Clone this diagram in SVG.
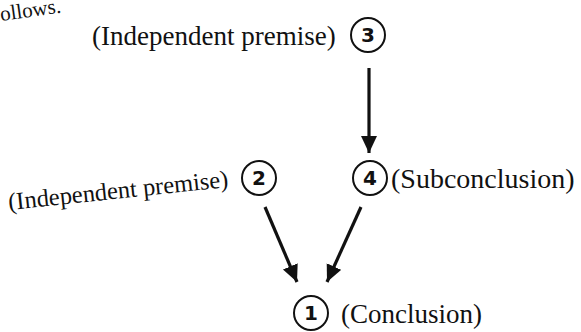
<svg xmlns="http://www.w3.org/2000/svg" width="581" height="332" viewBox="0 0 581 332">
<style>
.lbl{font-family:"Liberation Serif","Times New Roman",serif;fill:#111;}
.num{font-family:"DejaVu Sans","Liberation Sans",sans-serif;font-weight:bold;font-size:20px;fill:#111;text-anchor:middle;}
.circ{fill:none;stroke:#111;stroke-width:2;}
.edge{stroke:#111;stroke-width:3.2;fill:none;}
</style>
<defs>
<marker id="ah" markerUnits="userSpaceOnUse" markerWidth="20" markerHeight="18" refX="17" refY="8" orient="auto">
<path d="M0,0 L17,8 L0,16 Z" fill="#111"/>
</marker>
</defs>
<rect width="581" height="332" fill="#fff"/>
<text class="lbl" font-size="21" transform="translate(1,21) rotate(-8)">ollows.</text>
<g id="n3">
<text class="lbl" font-size="27" x="92" y="45">(Independent premise)</text>
<circle class="circ" cx="368" cy="35" r="17"/>
<text class="num" x="368" y="42">3</text>
</g>
<g id="n2">
<text class="lbl" font-size="24.5" transform="translate(9,210) rotate(-6)">(Independent premise)</text>
<circle class="circ" cx="259" cy="178" r="17"/>
<text class="num" x="259" y="185">2</text>
</g>
<g id="n4">
<circle class="circ" cx="370" cy="178" r="17"/>
<text class="num" x="370" y="185">4</text>
<text class="lbl" font-size="28" x="391" y="188">(Subconclusion)</text>
</g>
<g id="n1">
<circle class="circ" cx="311" cy="313" r="17"/>
<text class="num" x="311" y="320">1</text>
<text class="lbl" font-size="27" x="341" y="323">(Conclusion)</text>
</g>
<g id="connectors">
<line class="edge" x1="369" y1="68" x2="369" y2="153" marker-end="url(#ah)"/>
<line class="edge" x1="265" y1="207" x2="297" y2="282" marker-end="url(#ah)"/>
<line class="edge" x1="361" y1="207" x2="327" y2="282" marker-end="url(#ah)"/>
</g>
</svg>
